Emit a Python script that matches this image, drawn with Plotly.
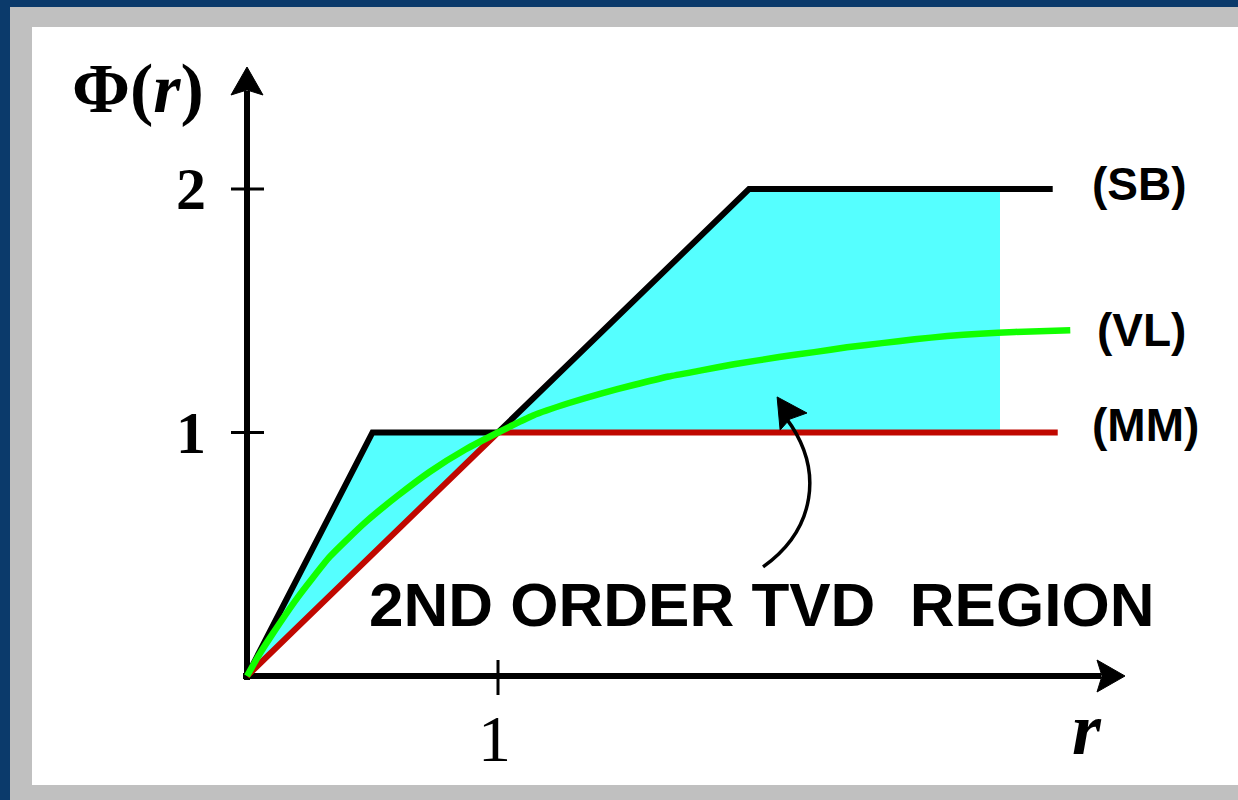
import numpy as np
import plotly.graph_objects as go

# ---- limiter curves: r on the horizontal axis, Phi(r) on the vertical ----
SB_R = [0.0, 0.5, 1.0, 2.0, 3.21]          # superbee
SB_PHI = [0.0, 1.0, 1.0, 2.0, 2.0]

MM_R = [0.0, 1.0, 3.23]                    # minmod
MM_PHI = [0.0, 1.0, 1.0]

VL_R = [0.0, 0.05, 0.10, 0.20, 0.33, 0.47, 0.60, 0.73, 0.87, 1.00, 1.14, 1.28, 1.41,
        1.54, 1.68, 1.81, 1.94, 2.12, 2.26, 2.39, 2.53, 2.66, 2.79, 2.92, 3.06, 3.28]
VL_PHI = [0.0, 0.09, 0.17, 0.32, 0.49, 0.63, 0.74, 0.84, 0.93, 1.00, 1.07, 1.12, 1.16,
          1.195, 1.23, 1.255, 1.28, 1.31, 1.33, 1.35, 1.367, 1.383, 1.396, 1.406, 1.413, 1.42]

REGION_R_MAX = 3.0                         # shaded TVD region ends here
X_TICKS = [1]
Y_TICKS = [1, 2]
SERIES_LABELS = ["(SB)", "(VL)", "(MM)"]
REGION_TEXT = "2ND ORDER TVD\u00a0\u00a0REGION"

# ---- page geometry (pixels) ----
W, H = 1238, 800
OX, OY = 247, 676          # where r=0, Phi=0 sits on the page
UX, UY = 251, 243.5        # pixels per unit

x_range = [(0 - OX) / UX, (W - OX) / UX]
y_range = [(OY - H) / UY, OY / UY]


def dx(p):
    return p / UX


def dy(p):
    return p / UY


def path(points, close=True):
    s = "M " + " L ".join(f"{x:.4f},{y:.4f}" for x, y in points)
    return s + (" Z" if close else "")


BLUE = "#0b3a6b"
GRAY = "#c0c0c0"
CYAN = "#55ffff"
RED = "#c00800"
GREEN = "#11ff00"
SERIF = "Liberation Serif"
SANS = "Liberation Sans"

fig = go.Figure()

# shaded region between the superbee and minmod limiters
sb_r = [r for r in SB_R if r < REGION_R_MAX] + [REGION_R_MAX]
sb_p = list(np.interp(sb_r, SB_R, SB_PHI))
mm_r = [REGION_R_MAX] + [r for r in MM_R[::-1] if r < REGION_R_MAX]
mm_p = list(np.interp(mm_r, MM_R, MM_PHI))
fig.add_trace(go.Scatter(x=sb_r + mm_r, y=sb_p + mm_p, fill="toself",
                         fillcolor=CYAN, line=dict(width=0), mode="lines",
                         hoverinfo="skip", showlegend=False))

fig.add_trace(go.Scatter(x=SB_R, y=SB_PHI, mode="lines",
                         line=dict(color="black", width=6), showlegend=False))
fig.add_trace(go.Scatter(x=MM_R, y=MM_PHI, mode="lines",
                         line=dict(color=RED, width=6), showlegend=False))
fig.add_trace(go.Scatter(x=VL_R, y=VL_PHI, mode="lines",
                         line=dict(color=GREEN, width=6.5, shape="spline", smoothing=0.5),
                         showlegend=False))

shapes = []
# frame: blue page, grey mat, white card
shapes.append(dict(type="rect", xref="paper", yref="paper", layer="below",
                   x0=10 / W, x1=1.01, y0=-0.01, y1=1 - 7 / H,
                   fillcolor=GRAY, line=dict(width=0)))
shapes.append(dict(type="rect", xref="paper", yref="paper", layer="below",
                   x0=32 / W, x1=1.01, y0=1 - 785 / H, y1=1 - 27 / H,
                   fillcolor="white", line=dict(width=0)))

# axes with arrow heads
x_tip, y_tip = dx(1125 - OX), dy(OY - 67)
head_len, head_half, notch = 28, 16, 5
shapes.append(dict(type="line", xref="x", yref="y", layer="below",
                   x0=-dx(4), y0=0, x1=x_tip - dx(head_len - 4), y1=0,
                   line=dict(color="black", width=6)))
shapes.append(dict(type="line", xref="x", yref="y", layer="below",
                   x0=0, y0=-dy(4), x1=0, y1=y_tip - dy(head_len - 4),
                   line=dict(color="black", width=6)))
shapes.append(dict(type="path", xref="x", yref="y", layer="below",
                   path=path([(x_tip, 0), (x_tip - dx(head_len), dy(head_half)),
                              (x_tip - dx(head_len - notch), 0),
                              (x_tip - dx(head_len), -dy(head_half))]),
                   fillcolor="black", line=dict(color="black", width=1)))
shapes.append(dict(type="path", xref="x", yref="y", layer="below",
                   path=path([(0, y_tip), (-dx(head_half), y_tip - dy(head_len)),
                              (0, y_tip - dy(head_len - notch)),
                              (dx(head_half), y_tip - dy(head_len))]),
                   fillcolor="black", line=dict(color="black", width=1)))

# tick marks
for t in X_TICKS:
    shapes.append(dict(type="line", xref="x", yref="y", layer="below",
                       x0=t, x1=t, y0=dy(16), y1=-dy(19),
                       line=dict(color="black", width=3)))
for t in Y_TICKS:
    shapes.append(dict(type="line", xref="x", yref="y", layer="below",
                       x0=-dx(16), x1=dx(17), y0=t, y1=t,
                       line=dict(color="black", width=3)))

# curved pointer into the shaded region
shapes.append(dict(type="path", xref="x", yref="y", layer="above",
                   path="M 2.056,0.448 C 2.263,0.600 2.303,0.846 2.147,1.060",
                   line=dict(color="black", width=3.5)))
shapes.append(dict(type="path", xref="x", yref="y", layer="above",
                   path=path([(2.112, 1.146), (2.124, 1.010), (2.163, 1.055), (2.231, 1.080)]),
                   fillcolor="black", line=dict(color="black", width=1)))

annotations = []
# tick labels
for t in Y_TICKS:
    annotations.append(dict(x=0, y=t, xref="x", yref="y", text=f"<b>{t}</b>",
                            showarrow=False, xanchor="center", yanchor="middle",
                            xshift=-56, yshift=0,
                            font=dict(family=SERIF, size=60, color="black")))
for t in X_TICKS:
    annotations.append(dict(x=t, y=0, xref="x", yref="y", text=f"{t}",
                            showarrow=False, xanchor="center", yanchor="middle",
                            xshift=-4, yshift=-62,
                            font=dict(family=SERIF, size=66, color="black")))

# axis titles
annotations.append(dict(x=0, y=Y_TICKS[-1], xref="x", yref="y",
                        text="<b>Φ(<i>r</i>)</b>", showarrow=False,
                        xanchor="center", yanchor="middle", xshift=-109, yshift=101,
                        font=dict(family=SERIF, size=70, color="black")))
annotations.append(dict(x=x_tip, y=0, xref="x", yref="y", text="<b><i>r</i></b>",
                        showarrow=False, xanchor="center", yanchor="middle",
                        xshift=-38, yshift=-53,
                        font=dict(family=SERIF, size=74, color="black")))

# series names at the line ends
ends = [(SB_R[-1], SB_PHI[-1], 37, 5), (VL_R[-1], VL_PHI[-1], 25, 0),
        (MM_R[-1], MM_PHI[-1], 32, 8)]
for label, (xe, ye, xs, ys) in zip(SERIES_LABELS, ends):
    annotations.append(dict(x=xe, y=ye, xref="x", yref="y", text=f"<b>{label}</b>",
                            showarrow=False, xanchor="left", yanchor="middle",
                            xshift=xs, yshift=ys,
                            font=dict(family=SANS, size=46, color="black")))

annotations.append(dict(x=2.048, y=0.292, xref="x", yref="y",
                        text=f"<b>{REGION_TEXT}</b>", showarrow=False,
                        xanchor="center", yanchor="middle",
                        font=dict(family=SANS, size=62, color="black")))

fig.update_layout(
    width=W, height=H, autosize=False,
    margin=dict(l=0, r=0, t=0, b=0, pad=0),
    paper_bgcolor=BLUE, plot_bgcolor="rgba(0,0,0,0)",
    xaxis=dict(range=x_range, visible=False, fixedrange=True),
    yaxis=dict(range=y_range, visible=False, fixedrange=True),
    shapes=shapes, annotations=annotations,
    showlegend=False,
)

fig.write_html("out.html")
